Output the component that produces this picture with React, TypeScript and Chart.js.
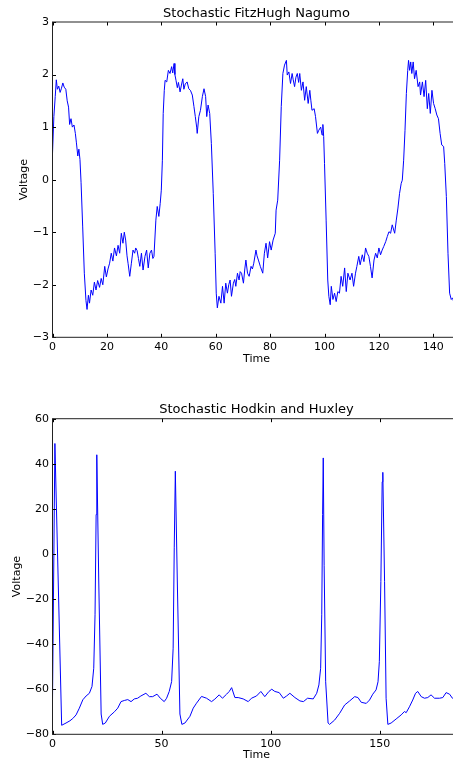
import React, { useEffect, useRef } from "react";
import { Chart, registerables } from "chart.js";

Chart.register(...registerables);

// ---------- Stochastic FitzHugh Nagumo ----------
const fnTime = [
  0, 0.5, 1.0, 1.4, 1.8, 2.3, 2.8, 3.3, 3.8, 4.3, 4.9, 5.4, 5.9, 6.3, 6.8, 7.3, 7.9, 8.4, 8.8, 9.3,
  9.7, 10.1, 10.5, 11.1, 11.7, 12.3, 12.7, 13.2, 13.6, 14.2, 14.8, 15.4, 16.0, 16.6, 17.3, 17.9, 18.5, 19.2, 19.8, 20.4,
  21.0, 21.6, 22.2, 22.8, 23.5, 24.1, 24.7, 25.3, 25.9, 26.4, 26.9, 27.4, 27.8, 28.4, 29.0, 29.6, 30.2, 30.6, 31.1, 31.6,
  32.1, 32.7, 33.3, 34.0, 34.6, 35.2, 35.8, 36.4, 36.9, 37.3, 38.0, 38.5, 39.1, 39.6, 40.0, 40.4, 40.7, 41.1, 41.4, 42.0,
  42.6, 43.2, 43.8, 44.2, 44.7, 45.0, 45.4, 45.9, 46.3, 46.9, 47.4, 47.9, 48.3, 48.8, 49.5, 50.1, 50.7, 51.4, 52.0, 52.5,
  53.0, 53.2, 53.8, 54.4, 55.1, 55.7, 56.3, 56.7, 57.2, 57.8, 58.4, 59.1, 59.8, 60.2, 60.6, 61.2, 61.9, 62.5, 63.1, 63.7,
  64.3, 64.8, 65.3, 65.8, 66.5, 67.0, 67.4, 68.0, 68.6, 69.0, 69.5, 70.2, 70.7, 71.1, 71.7, 72.3, 73.0, 73.5, 74.0, 74.8,
  75.2, 75.7, 76.4, 77.3, 77.9, 78.5, 79.1, 79.8, 80.4, 81.1, 81.9, 82.2, 82.8, 83.5, 84.1, 84.7, 85.3, 86.0, 86.3, 86.9,
  87.5, 88.1, 88.5, 89.0, 89.5, 90.0, 90.5, 90.9, 91.5, 92.1, 92.7, 93.3, 94.0, 94.6, 95.0, 95.4, 96.2, 96.7, 97.4, 97.9,
  98.6, 99.1, 99.4, 99.7, 100.0, 100.6, 101.2, 101.6, 102.1, 102.5, 103.1, 103.7, 104.3, 104.9, 105.5, 106.1, 106.7, 107.4, 108.0, 108.6,
  109.4, 110.1, 110.7, 111.4, 111.9, 112.6, 113.1, 113.9, 114.5, 115.1, 115.7, 116.3, 116.9, 117.5, 118.2, 118.8, 119.4, 120.0, 120.6, 121.2,
  121.8, 122.5, 123.1, 123.7, 124.3, 124.9, 125.8, 126.4, 127.0, 127.6, 128.2, 128.6, 129.1, 129.6, 130.1, 130.6, 130.9, 131.3, 131.7, 132.1,
  132.6, 133.1, 133.7, 134.4, 135.0, 135.3, 136.0, 136.6, 137.2, 137.8, 138.3, 138.9, 139.5, 140.1, 140.7, 141.3, 141.9, 142.5, 143.1, 143.8,
  144.2, 144.8, 145.4, 146.0, 146.6, 147.1, 147.6, 148.2, 148.8, 149.4, 150.0,
];
const fnVoltage = [
  0.5, 1.2, 1.58, 1.9, 1.72, 1.78, 1.66, 1.74, 1.84, 1.76, 1.72, 1.5, 1.38, 1.05, 1.16, 1.0, 1.04, 0.88, 0.7, 0.45,
  0.58, 0.38, -0.05, -0.9, -1.78, -2.3, -2.47, -2.2, -2.35, -2.1, -2.2, -1.95, -2.1, -1.92, -2.05, -1.88, -2.0, -1.65, -1.85, -1.7,
  -1.59, -1.4, -1.55, -1.3, -1.45, -1.25, -1.4, -1.02, -1.21, -1.0, -1.15, -1.45, -1.6, -1.84, -1.59, -1.34, -1.4, -1.3, -1.35, -1.5,
  -1.65, -1.4, -1.72, -1.46, -1.34, -1.68, -1.4, -1.34, -1.5, -1.46, -0.77, -0.51, -0.7, -0.45, -0.2, 0.37, 1.26, 1.7, 1.89, 1.86,
  2.08, 2.02, 2.15, 2.03, 2.21, 2.0, 1.89, 1.75, 1.85, 1.67, 1.8, 1.92, 1.72, 1.82, 1.86, 1.73, 1.7, 1.61, 1.39, 1.2,
  1.0, 0.88, 1.2, 1.32, 1.58, 1.73, 1.58, 1.2, 1.42, 1.26, 0.69, -0.26, -1.4, -2.16, -2.44, -2.22, -2.35, -2.03, -2.35, -1.97,
  -2.16, -2.0, -1.91, -2.22, -1.97, -1.9, -2.03, -1.78, -1.91, -1.75, -1.78, -1.97, -1.7, -1.53, -1.78, -1.84, -1.65, -1.7, -1.59, -1.34,
  -1.45, -1.53, -1.65, -1.78, -1.4, -1.21, -1.49, -1.18, -1.34, -1.15, -1.02, -0.58, -0.39, 0.37, 1.39, 2.02, 2.18, 2.27, 1.99, 2.05,
  1.83, 2.02, 1.9, 1.77, 1.95, 2.02, 1.85, 2.02, 1.7, 1.86, 1.51, 1.77, 1.45, 1.7, 1.5, 1.32, 1.35, 1.2, 0.88, 0.94,
  1.0, 0.85, 1.05, 0.82, 0.31, -0.77, -1.91, -2.22, -2.38, -2.03, -2.28, -2.16, -2.32, -2.13, -2.16, -1.84, -2.03, -1.68, -2.13, -1.78,
  -1.91, -1.78, -2.03, -1.78, -1.65, -1.46, -1.62, -1.43, -1.56, -1.3, -1.4, -1.46, -1.65, -1.87, -1.53, -1.4, -1.49, -1.3, -1.43, -1.34,
  -1.27, -1.18, -1.08, -0.99, -1.02, -0.86, -1.02, -0.77, -0.54, -0.26, -0.07, -0.01, 0.37, 0.94, 1.64, 2.08, 2.27, 2.08, 2.24, 2.02,
  2.24, 1.92, 2.08, 1.77, 1.86, 1.61, 1.86, 1.58, 1.89, 1.35, 1.64, 1.26, 1.7, 1.45, 1.35, 1.23, 1.16, 0.88, 0.66, 0.63,
  0.31, -0.32, -1.4, -2.16, -2.28, -2.25, -2.35, -2.3, -2.2, -2.3, -2.25,
];
const fnXTicks = { min: 0, max: 150, step: 20 };
const fnYTicks = { min: -3, max: 3, step: 1 };

// ---------- Stochastic Hodkin and Huxley ----------
const hhTime = [
  0, 1.1, 4.2, 6.2, 8.0, 9.3, 10.8, 12.3, 13.9, 15.4, 16.9, 18.1, 18.9, 19.5, 20.0, 20.3, 21.2, 22.3, 23.0, 24.2,
  26.1, 28.4, 29.9, 31.4, 32.9, 34.5, 36.0, 37.5, 39.0, 40.5, 42.8, 44.4, 45.9, 47.9, 49.4, 51.2, 52.3, 53.5, 54.6, 55.3,
  55.8, 56.3, 57.2, 58.4, 59.3, 60.7, 63.0, 64.5, 66.0, 68.3, 70.6, 72.9, 74.4, 76.4, 77.9, 79.8, 81.0, 82.1, 83.6, 85.1,
  87.4, 89.7, 91.2, 93.5, 95.5, 97.3, 99.2, 100.5, 101.9, 103.9, 105.8, 107.3, 108.8, 111.1, 113.4, 115.0, 116.9, 119.5, 121.1, 122.1,
  122.9, 123.4, 123.8, 124.1, 124.5, 125.2, 126.3, 127.0, 129.3, 131.6, 133.9, 136.2, 138.5, 140.0, 141.5, 143.8, 145.3, 146.8, 148.3, 149.2,
  149.8, 150.5, 151.1, 151.4, 152.2, 152.9, 153.7, 155.2, 157.5, 159.8, 161.3, 162.1, 163.6, 165.1, 166.4, 167.4, 169.0, 170.5, 172.0, 173.5,
  175.1, 177.4, 178.9, 180.4, 182.0, 183.3, 185.0, 187.0,
];
const hhVoltage = [
  -65, 49, -76, -75, -74, -73, -71.4, -68.4, -64.7, -63, -61.8, -58.8, -50.7, -27, 17.5, 44, -12, -71, -75.6, -75,
  -72, -70, -68.4, -65.5, -65, -64.6, -65.5, -64.3, -64, -63, -61.8, -63.3, -63.3, -62.2, -64, -65.5, -64, -61, -56.6, -41.8,
  2.7, 36.7, -12, -71, -75.6, -75, -72, -68.4, -66.2, -63.2, -64, -65.5, -64.4, -62.5, -64, -62.2, -61, -59.3, -63.7, -63.7,
  -64.3, -65.5, -64, -63, -61, -63.3, -61, -60, -61, -61.5, -64, -63, -61.8, -63.7, -65.2, -65.5, -64, -64.3, -61.8, -58.1,
  -50.7, -27, 17.5, 42.6, -5, -56.7, -75, -75.6, -73.7, -70.7, -67, -65.2, -63.3, -63.7, -65.8, -66.3, -64.8, -62.2, -60.3, -56.7,
  -47.8, -12.3, 32, 36.2, -12.3, -64, -75.6, -75, -73.2, -71.4, -69.9, -70.4, -67.8, -64.8, -61.8, -61, -63.3, -64, -63.7, -62.5,
  -64, -64, -63.7, -61.5, -62.2, -64, -64.5, -64.2,
];
const hhXTicks = { min: 0, max: 187, step: 50 };
const hhYTicks = { min: -80, max: 60, step: 20 };

const FONT = "'DejaVu Sans', sans-serif";

const fmt = (v: number) => (v < 0 ? "\u2212" + Math.abs(v) : String(v));

const framePlugin = {
  id: "mplFrame",
  afterDraw(chart: any) {
    const { ctx, chartArea } = chart;
    const { left, right, top, bottom } = chartArea;
    const xs = chart.scales.x;
    const ys = chart.scales.y;
    const tl = 3.5;
    ctx.save();
    ctx.strokeStyle = "#000";
    ctx.lineWidth = 1;
    ctx.beginPath();
    xs.ticks.forEach((t: any) => {
      const px = Math.round(xs.getPixelForValue(t.value)) + 0.5;
      ctx.moveTo(px, bottom);
      ctx.lineTo(px, bottom - tl);
      ctx.moveTo(px, top);
      ctx.lineTo(px, top + tl);
    });
    ys.ticks.forEach((t: any) => {
      const py = Math.round(ys.getPixelForValue(t.value)) + 0.5;
      ctx.moveTo(left, py);
      ctx.lineTo(left + tl, py);
      ctx.moveTo(right, py);
      ctx.lineTo(right - tl, py);
    });
    ctx.stroke();
    ctx.strokeStyle = "#222";
    ctx.strokeRect(left, top, right - left, bottom - top);
    ctx.restore();
  },
};

type Cfg = {
  time: number[];
  volt: number[];
  title: string;
  xt: { min: number; max: number; step: number };
  yt: { min: number; max: number; step: number };
  titlePad: { top: number; bottom: number };
  xAxisH: number;
  xTitlePadBottom: number;
  yTitlePadTop: number;
};

function makeConfig(c: Cfg): any {
  return {
    type: "line",
    data: {
      datasets: [
        {
          data: c.time.map((t, i) => ({ x: t, y: c.volt[i] })),
          borderColor: "#0000ff",
          borderWidth: 1,
          pointRadius: 0,
          tension: 0,
          fill: false,
        },
      ],
    },
    options: {
      animation: false,
      responsive: false,
      maintainAspectRatio: false,
      layout: { padding: { left: 0, right: 1.5, top: 0, bottom: 0 } },
      plugins: {
        legend: { display: false },
        tooltip: { enabled: false },
        title: {
          display: true,
          fullSize: false,
          text: c.title,
          color: "#000",
          font: { family: FONT, size: 13, weight: "normal" },
          padding: c.titlePad,
        },
      },
      scales: {
        x: {
          type: "linear",
          min: c.xt.min,
          max: c.xt.max,
          grid: { display: false, drawTicks: false },
          border: { display: false },
          ticks: {
            stepSize: c.xt.step,
            includeBounds: false,
            color: "#000",
            font: { family: FONT, size: 11 },
            padding: 3,
            maxRotation: 0,
            autoSkip: false,
            callback: (v: number) => fmt(v),
          },
          title: {
            display: true,
            text: "Time",
            color: "#000",
            font: { family: FONT, size: 11 },
            padding: { top: 0, bottom: c.xTitlePadBottom },
          },
          afterFit: (s: any) => {
            s.height = c.xAxisH;
          },
        },
        y: {
          type: "linear",
          min: c.yt.min,
          max: c.yt.max,
          grid: { display: false, drawTicks: false },
          border: { display: false },
          ticks: {
            stepSize: c.yt.step,
            color: "#000",
            font: { family: FONT, size: 11 },
            padding: 3.5,
            autoSkip: false,
            callback: (v: number) => fmt(v),
          },
          title: {
            display: true,
            text: "Voltage",
            color: "#000",
            font: { family: FONT, size: 11 },
            padding: { top: c.yTitlePadTop, bottom: 0 },
          },
          afterFit: (s: any) => {
            s.width = 52.5;
          },
        },
      },
    },
    plugins: [framePlugin],
  };
}

function ChartCanvas({ cfg, top, height }: { cfg: Cfg; top: number; height: number }) {
  const ref = useRef<HTMLCanvasElement | null>(null);
  useEffect(() => {
    if (!ref.current) return;
    const chart = new Chart(ref.current, makeConfig(cfg));
    return () => chart.destroy();
  }, []);
  return (
    <canvas
      ref={ref}
      width={462}
      height={height}
      style={{ position: "absolute", left: 0, top, width: 462, height }}
    />
  );
}

const fnCfg: Cfg = {
  time: fnTime,
  volt: fnVoltage,
  title: "Stochastic FitzHugh Nagumo",
  xt: fnXTicks,
  yt: fnYTicks,
  titlePad: { top: 5.4, bottom: 1.0 },
  xAxisH: 32.7,
  xTitlePadBottom: 3.9,
  yTitlePadTop: 17.4,
};

const hhCfg: Cfg = {
  time: hhTime,
  volt: hhVoltage,
  title: "Stochastic Hodkin and Huxley",
  xt: hhXTicks,
  yt: hhYTicks,
  titlePad: { top: 12.2, bottom: 0.9 },
  xAxisH: 27.7,
  xTitlePadBottom: 0,
  yTitlePadTop: 10.8,
};

export default function App() {
  return (
    <div
      style={{
        position: "fixed",
        left: 0,
        top: 0,
        width: 453,
        height: 762,
        overflow: "hidden",
        background: "#fff",
      }}
    >
      <ChartCanvas cfg={fnCfg} top={0} height={370} />
      <ChartCanvas cfg={hhCfg} top={390} height={372} />
    </div>
  );
}
